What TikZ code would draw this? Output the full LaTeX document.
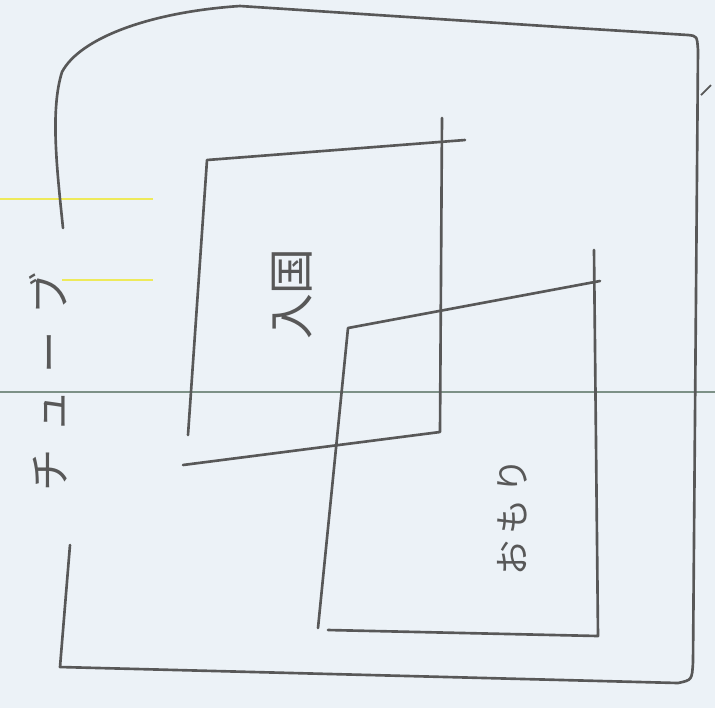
\documentclass[tikz,border=0pt]{standalone}
\usepackage{fontspec}
\newfontfamily\jpfont{Noto Sans CJK JP}
\definecolor{paper}{RGB}{236,242,247}
\definecolor{pencil}{RGB}{88,88,88}
\definecolor{ruleline}{RGB}{125,145,135}
\definecolor{marker}{RGB}{238,234,90}

\begin{document}
\begin{tikzpicture}[x=0.01cm, y=-0.01cm,
    stroke/.style={draw=pencil, line width=0.75pt, line cap=round, line join=round},
    rule/.style={draw=ruleline, line width=0.5pt},
    hilite/.style={draw=marker, line width=0.5pt},
    tag/.style={font=\jpfont, text=pencil, rotate=90, inner sep=0pt}
]
    % Papier
    \fill[paper] (0,0) rectangle (715,708);
    \useasboundingbox (0,0) rectangle (715,708);

    % Linien des Papiers
    \draw[rule] (0,392) -- (715,392);
    \draw[hilite] (0,199) -- (153,199);
    \draw[hilite] (62,280) -- (153,280);

    % Aeusserer Rahmen
    \draw[stroke] (63,228) .. controls (57,170) and (50,110) .. (62,72)
        .. controls (80,38) and (150,12) .. (240,6)
        -- (560,27) -- (688,35) .. controls (697,36) .. (698,50)
        -- (693,662) .. controls (692,680) .. (678,683) -- (60,667) -- (70,545);
    \draw[pencil, line width=0.5pt] (701,95) -- (711,85);

    % Oberes Quadrat
    \draw[stroke] (188,435) -- (207,160) -- (465,140);
    \draw[stroke] (442,118) -- (440,432) -- (183,465);

    % Unteres Quadrat
    \draw[stroke] (318,628) -- (348,328) -- (600,281);
    \draw[stroke] (594,250) -- (598,636) -- (328,630);

    % Beschriftungen
    \node[tag, font=\jpfont\fontsize{12}{12}\selectfont] (tube) at (48,382)
        {チ\hspace{1.7mm}ュ\hspace{1.7mm}ー\hspace{1.7mm}ブ};
    \node[tag, font=\jpfont\fontsize{13}{13}\selectfont] (entry) at (292,294) {入国};
    \node[tag, font=\jpfont\fontsize{10}{10}\selectfont] (weight) at (512,517)
        {お\hspace{0.6mm}も\hspace{0.6mm}り};
\end{tikzpicture}
\end{document}
